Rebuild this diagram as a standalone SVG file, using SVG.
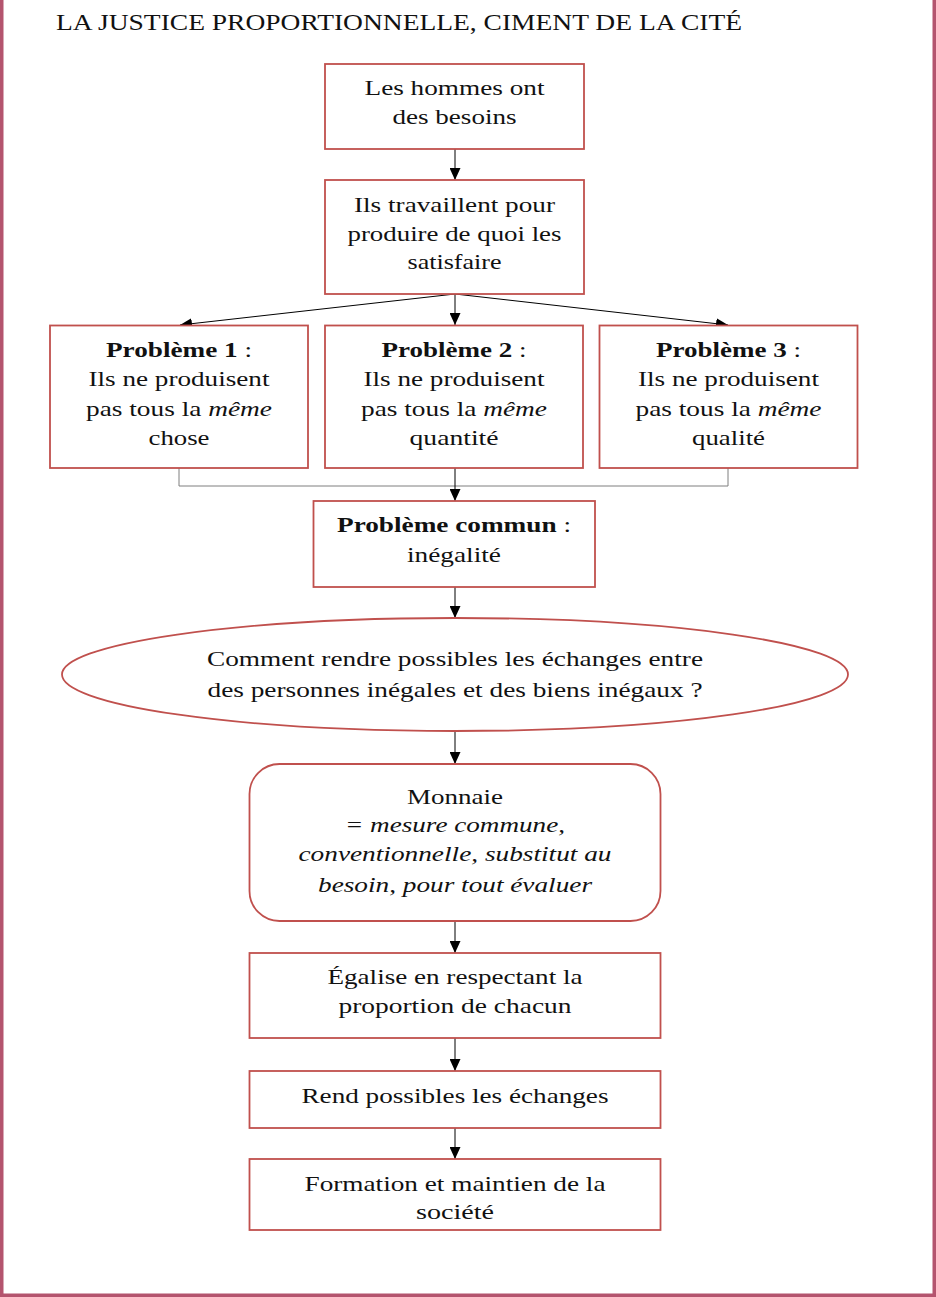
<svg xmlns="http://www.w3.org/2000/svg" width="936" height="1297" viewBox="0 0 936 1297">
<style>
text{font-family:"Liberation Serif","Times New Roman",serif;font-size:22px;fill:#111;text-anchor:middle}
.title{font-size:24px;text-anchor:start}
.box{fill:#fff;stroke:#c0504d;stroke-width:1.8}
.conn{fill:none;stroke:#000;stroke-width:1}
.brk{fill:none;stroke:#7f7f7f;stroke-width:1}
.b{font-weight:bold}
.i{font-style:italic}
.edge{fill:#b4546e}
</style>
<defs>
<marker id="ah" markerUnits="userSpaceOnUse" markerWidth="12" markerHeight="11" refX="12" refY="5.5" orient="auto">
<path d="M0,0 L12,5.5 L0,11 z" fill="#000"/>
</marker>
</defs>
<rect x="0" y="0" width="936" height="1297" fill="#fff"/>
<rect class="edge" x="0" y="0" width="3.5" height="1297"/>
<rect class="edge" x="932.5" y="0" width="3.5" height="1297"/>
<rect class="edge" x="0" y="1293.5" width="936" height="3.5"/>
<text class="title" x="56" y="30" textLength="686" lengthAdjust="spacingAndGlyphs">LA JUSTICE PROPORTIONNELLE, CIMENT DE LA CITÉ</text>
<g id="connectors">
<line class="conn" x1="455" y1="149" x2="455" y2="180" marker-end="url(#ah)"/>
<line class="conn" x1="455" y1="294" x2="180" y2="325" marker-end="url(#ah)"/>
<line class="conn" x1="455" y1="294" x2="455" y2="325" marker-end="url(#ah)"/>
<line class="conn" x1="455" y1="294" x2="728" y2="325" marker-end="url(#ah)"/>
<polyline class="brk" points="179,468 179,486 728,486 728,468"/>
<line class="conn" x1="455" y1="468" x2="455" y2="501" marker-end="url(#ah)"/>
<line class="conn" x1="455" y1="587" x2="455" y2="618" marker-end="url(#ah)"/>
<line class="conn" x1="455" y1="731" x2="455" y2="764" marker-end="url(#ah)"/>
<line class="conn" x1="455" y1="921" x2="455" y2="953" marker-end="url(#ah)"/>
<line class="conn" x1="455" y1="1038" x2="455" y2="1071" marker-end="url(#ah)"/>
<line class="conn" x1="455" y1="1128" x2="455" y2="1159" marker-end="url(#ah)"/>
</g>
<g id="besoins">
<rect class="box" x="325" y="64" width="259" height="85"/>
<text x="454.5" y="95" textLength="180" lengthAdjust="spacingAndGlyphs">Les hommes ont</text>
<text x="454.5" y="123.5" textLength="124" lengthAdjust="spacingAndGlyphs">des besoins</text>
</g>
<g id="travail">
<rect class="box" x="325" y="180" width="259" height="114"/>
<text x="454.5" y="211.5" textLength="201" lengthAdjust="spacingAndGlyphs">Ils travaillent pour</text>
<text x="454.5" y="240.5" textLength="214" lengthAdjust="spacingAndGlyphs">produire de quoi les</text>
<text x="454.5" y="268.5" textLength="94" lengthAdjust="spacingAndGlyphs">satisfaire</text>
</g>
<g id="probleme1">
<rect class="box" x="50" y="325.5" width="258" height="142.5"/>
<text x="179" y="356.5" textLength="146" lengthAdjust="spacingAndGlyphs"><tspan class="b">Problème 1</tspan> :</text>
<text x="179" y="386" textLength="181" lengthAdjust="spacingAndGlyphs">Ils ne produisent</text>
<text x="179" y="416" textLength="186" lengthAdjust="spacingAndGlyphs">pas tous la <tspan class="i">même</tspan></text>
<text x="179" y="445" textLength="61" lengthAdjust="spacingAndGlyphs">chose</text>
</g>
<g id="probleme2">
<rect class="box" x="325" y="325.5" width="258" height="142.5"/>
<text x="454" y="356.5" textLength="145" lengthAdjust="spacingAndGlyphs"><tspan class="b">Problème 2</tspan> :</text>
<text x="454" y="386" textLength="181" lengthAdjust="spacingAndGlyphs">Ils ne produisent</text>
<text x="454" y="416" textLength="186" lengthAdjust="spacingAndGlyphs">pas tous la <tspan class="i">même</tspan></text>
<text x="454" y="445" textLength="89" lengthAdjust="spacingAndGlyphs">quantité</text>
</g>
<g id="probleme3">
<rect class="box" x="599.5" y="325.5" width="258" height="142.5"/>
<text x="728.5" y="356.5" textLength="145" lengthAdjust="spacingAndGlyphs"><tspan class="b">Problème 3</tspan> :</text>
<text x="728.5" y="386" textLength="181" lengthAdjust="spacingAndGlyphs">Ils ne produisent</text>
<text x="728.5" y="416" textLength="186" lengthAdjust="spacingAndGlyphs">pas tous la <tspan class="i">même</tspan></text>
<text x="728.5" y="445" textLength="73" lengthAdjust="spacingAndGlyphs">qualité</text>
</g>
<g id="commun">
<rect class="box" x="313.5" y="501" width="281.5" height="86"/>
<text x="454" y="532" textLength="234" lengthAdjust="spacingAndGlyphs"><tspan class="b">Problème commun</tspan> :</text>
<text x="454" y="562" textLength="94" lengthAdjust="spacingAndGlyphs">inégalité</text>
</g>
<g id="question">
<ellipse class="box" cx="455" cy="674.5" rx="393" ry="56.5"/>
<text x="455" y="666" textLength="496" lengthAdjust="spacingAndGlyphs">Comment rendre possibles les échanges entre</text>
<text x="455" y="696.5" textLength="495" lengthAdjust="spacingAndGlyphs">des personnes inégales et des biens inégaux ?</text>
</g>
<g id="monnaie">
<rect class="box" x="249.5" y="764" width="411" height="157" rx="30" ry="30"/>
<text x="455" y="803.5" textLength="96" lengthAdjust="spacingAndGlyphs">Monnaie</text>
<text class="i" x="455" y="832" textLength="220" lengthAdjust="spacingAndGlyphs">= mesure commune,</text>
<text class="i" x="455" y="861" textLength="313" lengthAdjust="spacingAndGlyphs">conventionnelle, substitut au</text>
<text class="i" x="455" y="891.5" textLength="274" lengthAdjust="spacingAndGlyphs">besoin, pour tout évaluer</text>
</g>
<g id="egalise">
<rect class="box" x="249.5" y="953" width="411" height="85"/>
<text x="455" y="983.5" textLength="255" lengthAdjust="spacingAndGlyphs">Égalise en respectant la</text>
<text x="455" y="1013" textLength="233" lengthAdjust="spacingAndGlyphs">proportion de chacun</text>
</g>
<g id="echanges">
<rect class="box" x="249.5" y="1071" width="411" height="57"/>
<text x="455" y="1102.5" textLength="307" lengthAdjust="spacingAndGlyphs">Rend possibles les échanges</text>
</g>
<g id="societe">
<rect class="box" x="249.5" y="1159" width="411" height="71"/>
<text x="455" y="1191" textLength="301" lengthAdjust="spacingAndGlyphs">Formation et maintien de la</text>
<text x="455" y="1218.5" textLength="78" lengthAdjust="spacingAndGlyphs">société</text>
</g>
</svg>
